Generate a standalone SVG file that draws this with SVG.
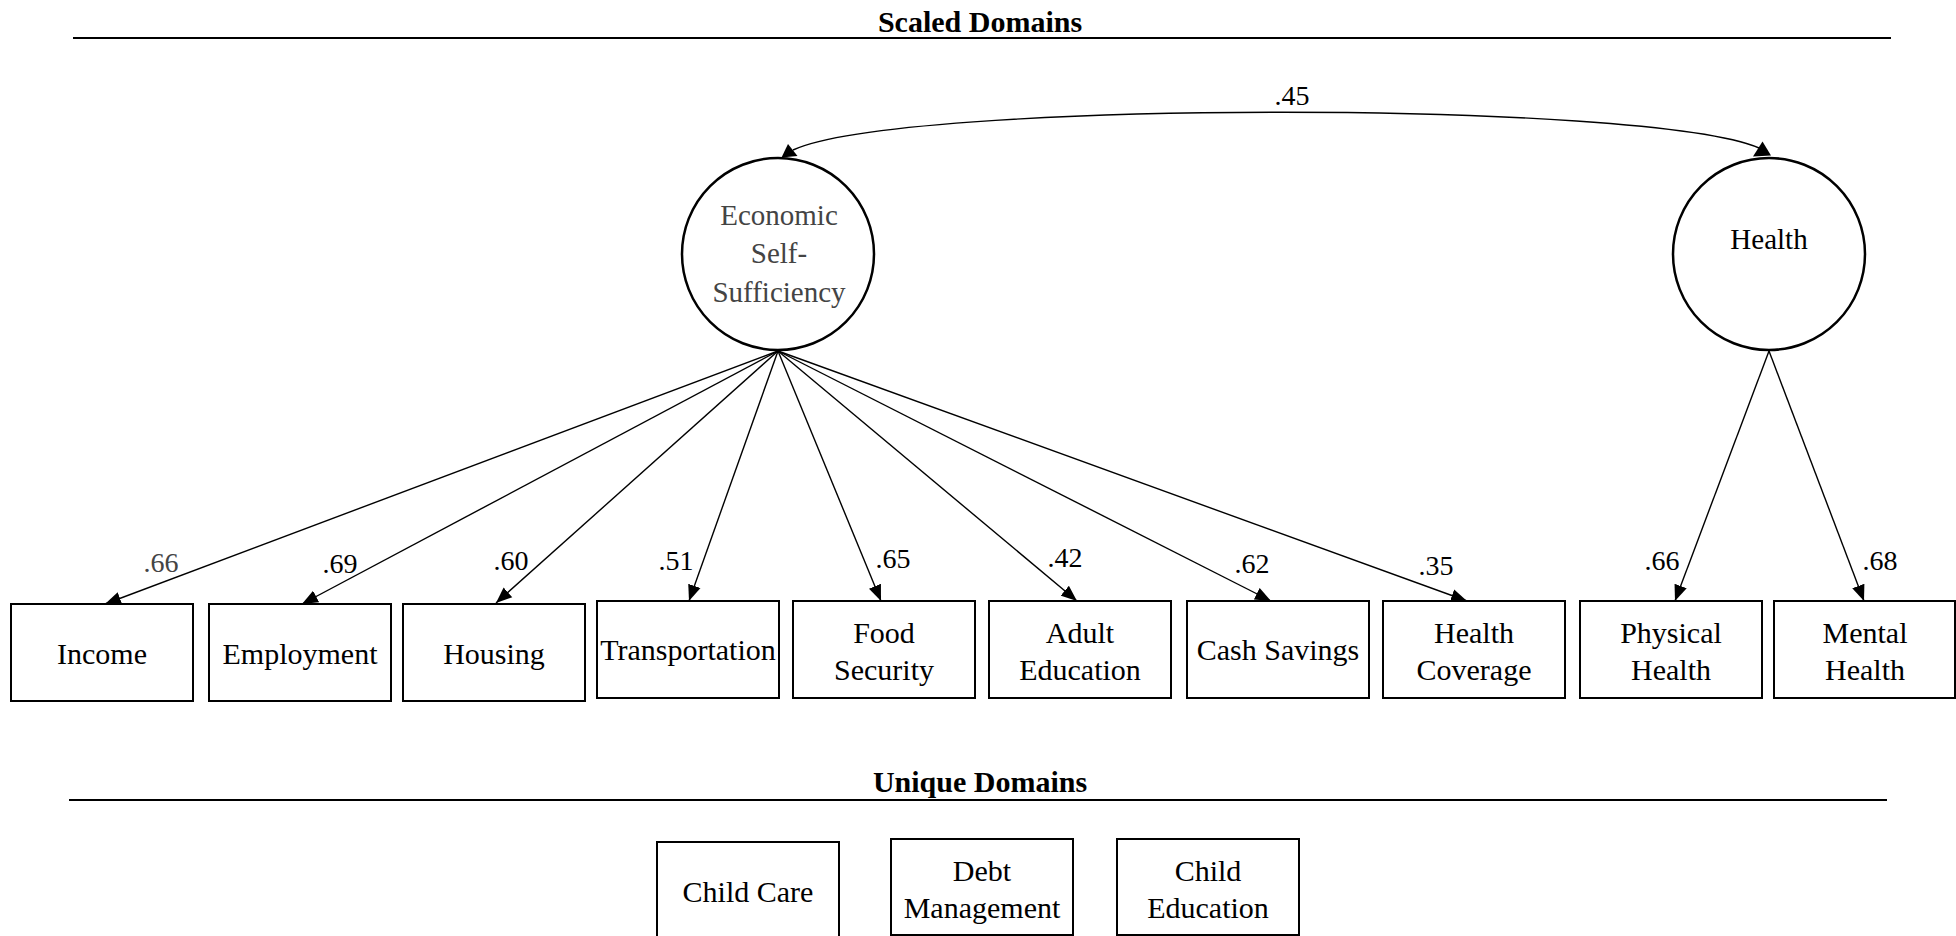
<svg xmlns="http://www.w3.org/2000/svg" width="1956" height="936" viewBox="0 0 1956 936">
<style>
  .bg { fill: #ffffff; }
  .hdr { font-family: "Liberation Serif", "Times New Roman", serif; font-size: 30px; font-weight: bold; fill: #000; text-anchor: middle; }
  .rule { stroke: #000; stroke-width: 2; fill: none; }
  .box { fill: #fff; stroke: #000; stroke-width: 2; }
  .lat { fill: #fff; stroke: #000; stroke-width: 2.5; }
  .lbl { font-family: "Liberation Serif", "Times New Roman", serif; font-size: 30px; fill: #000; text-anchor: middle; }
  .latlbl { font-family: "Liberation Serif", "Times New Roman", serif; font-size: 29px; text-anchor: middle; }
  .load { font-family: "Liberation Serif", "Times New Roman", serif; font-size: 28px; fill: #000; text-anchor: middle; }
  .grey { fill: #444; }
  .edge { stroke: #000; stroke-width: 1.4; fill: none; }
  .head { fill: #000; stroke: none; }
</style>
<defs>
  <marker id="arr" markerUnits="userSpaceOnUse" markerWidth="17" markerHeight="14" refX="16" refY="7" orient="auto">
    <path d="M0,0.5 L16,7 L0,13.5 z" fill="#000"/>
  </marker>
</defs>
<rect class="bg" x="0" y="0" width="1956" height="936"/>

<g id="header-scaled">
  <text class="hdr" x="980" y="32">Scaled Domains</text>
  <line class="rule" x1="73" y1="38" x2="1891" y2="38"/>
</g>
<g id="header-unique">
  <text class="hdr" x="980" y="792">Unique Domains</text>
  <line class="rule" x1="69" y1="800" x2="1887" y2="800"/>
</g>

<g id="connectors">
  <path class="edge" d="M793,150 C900,100 1648,100 1759,148"/>
  <polygon class="head" points="788,144 781.5,157.5 797.5,156"/>
  <polygon class="head" points="1762.5,141.5 1753,156.5 1771,155.5"/>
  <text class="load" x="1292" y="105">.45</text>

  <path class="edge" marker-end="url(#arr)" d="M778,351 L105,604"/>
  <path class="edge" marker-end="url(#arr)" d="M778,351 L302,604"/>
  <path class="edge" marker-end="url(#arr)" d="M778,351 L496,603"/>
  <path class="edge" marker-end="url(#arr)" d="M778,351 L689,601"/>
  <path class="edge" marker-end="url(#arr)" d="M778,351 L881,601"/>
  <path class="edge" marker-end="url(#arr)" d="M778,351 L1077,601"/>
  <path class="edge" marker-end="url(#arr)" d="M778,351 L1271,601"/>
  <path class="edge" marker-end="url(#arr)" d="M778,351 L1467,601"/>
  <path class="edge" marker-end="url(#arr)" d="M1769,351 L1675,601"/>
  <path class="edge" marker-end="url(#arr)" d="M1769,351 L1864,601"/>

  <text class="load grey" x="161" y="572">.66</text>
  <text class="load" x="340" y="573">.69</text>
  <text class="load" x="511" y="570">.60</text>
  <text class="load" x="676" y="570">.51</text>
  <text class="load" x="893" y="568">.65</text>
  <text class="load" x="1065" y="567">.42</text>
  <text class="load" x="1252" y="573">.62</text>
  <text class="load" x="1436" y="575">.35</text>
  <text class="load" x="1662" y="570">.66</text>
  <text class="load" x="1880" y="570">.68</text>
</g>

<g id="ess">
  <circle class="lat" cx="778" cy="254" r="96"/>
  <text class="latlbl grey" x="779" y="225">Economic</text>
  <text class="latlbl grey" x="779" y="263">Self-</text>
  <text class="latlbl grey" x="779" y="302">Sufficiency</text>
</g>
<g id="health">
  <circle class="lat" cx="1769" cy="254" r="96"/>
  <text class="latlbl" x="1769" y="249">Health</text>
</g>

<g id="income"><rect class="box" x="11" y="604" width="182" height="97"/><text class="lbl" x="102" y="664">Income</text></g>
<g id="employment"><rect class="box" x="209" y="604" width="182" height="97"/><text class="lbl" x="300" y="664">Employment</text></g>
<g id="housing"><rect class="box" x="403" y="604" width="182" height="97"/><text class="lbl" x="494" y="664">Housing</text></g>
<g id="transportation"><rect class="box" x="597" y="601" width="182" height="97"/><text class="lbl" x="688" y="660">Transportation</text></g>
<g id="food-security"><rect class="box" x="793" y="601" width="182" height="97"/><text class="lbl" x="884" y="643">Food</text><text class="lbl" x="884" y="679.5">Security</text></g>
<g id="adult-education"><rect class="box" x="989" y="601" width="182" height="97"/><text class="lbl" x="1080" y="643">Adult</text><text class="lbl" x="1080" y="679.5">Education</text></g>
<g id="cash-savings"><rect class="box" x="1187" y="601" width="182" height="97"/><text class="lbl" x="1278" y="660">Cash Savings</text></g>
<g id="health-coverage"><rect class="box" x="1383" y="601" width="182" height="97"/><text class="lbl" x="1474" y="643">Health</text><text class="lbl" x="1474" y="679.5">Coverage</text></g>
<g id="physical-health"><rect class="box" x="1580" y="601" width="182" height="97"/><text class="lbl" x="1671" y="643">Physical</text><text class="lbl" x="1671" y="679.5">Health</text></g>
<g id="mental-health"><rect class="box" x="1774" y="601" width="181" height="97"/><text class="lbl" x="1865" y="643">Mental</text><text class="lbl" x="1865" y="679.5">Health</text></g>

<g id="child-care"><rect class="box" x="657" y="842" width="182" height="97"/><text class="lbl" x="748" y="901.5">Child Care</text></g>
<g id="debt-management"><rect class="box" x="891" y="839" width="182" height="96"/><text class="lbl" x="982" y="881">Debt</text><text class="lbl" x="982" y="917.5">Management</text></g>
<g id="child-education"><rect class="box" x="1117" y="839" width="182" height="96"/><text class="lbl" x="1208" y="881">Child</text><text class="lbl" x="1208" y="917.5">Education</text></g>
</svg>
